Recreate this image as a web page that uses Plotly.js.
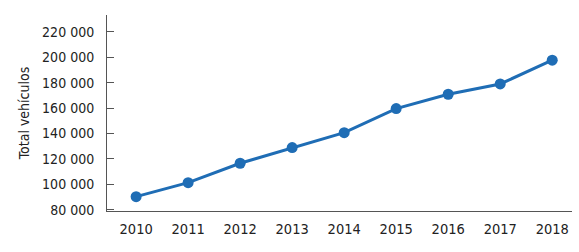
<!DOCTYPE html>
<html><head><meta charset="utf-8">
<script src="https://cdn.plot.ly/plotly-3.0.1.min.js"></script>
<style>html,body{margin:0;padding:0;background:#fff;}#c{width:579px;height:252px;}</style>
</head><body><div id="c"></div>
<script>
const years = [2010, 2011, 2012, 2013, 2014, 2015, 2016, 2017, 2018];
const totalVehiculos = [90300, 101300, 116600, 128900, 140700, 159600, 170900, 179000, 197700];
const yTicks = [80000, 100000, 120000, 140000, 160000, 180000, 200000, 220000];

const font = "'Liberation Sans Narrow', 'DejaVu Sans Condensed', 'Arial Narrow', sans-serif";
Plotly.newPlot('c', [{
  x: years, y: totalVehiculos, type: 'scatter', mode: 'lines+markers',
  line: {color: '#1f6db5', width: 3},
  marker: {color: '#1f6db5', size: 11},
  hoverinfo: 'skip'
}], {
  width: 579, height: 252,
  margin: {l: 107, r: 7, t: 15, b: 41},
  paper_bgcolor: '#fff', plot_bgcolor: '#fff',
  separators: '. ',
  showlegend: false,
  font: {family: font, size: 14, color: '#222'},
  xaxis: {
    range: [2009.44, 2018.38], tickvals: years, ticks: '', showgrid: false, zeroline: false,
    showline: true, linecolor: '#555', linewidth: 1, tickfont: {family: font, size: 14.5, color: '#222'},
    ticklabelstandoff: 5
  },
  yaxis: {
    range: [79000, 233300], tickvals: yTicks, tickformat: ',d', ticks: 'inside', ticklen: 7,
    tickcolor: '#555', showgrid: false, zeroline: false, showline: true, linecolor: '#555', linewidth: 1,
    tickfont: {family: font, size: 14, color: '#222'}, ticklabelstandoff: 9,
    title: {text: 'Total vehículos', font: {family: font, size: 14, color: '#222'}, standoff: 9}
  }
}, {displayModeBar: false, staticPlot: true});
</script></body></html>
